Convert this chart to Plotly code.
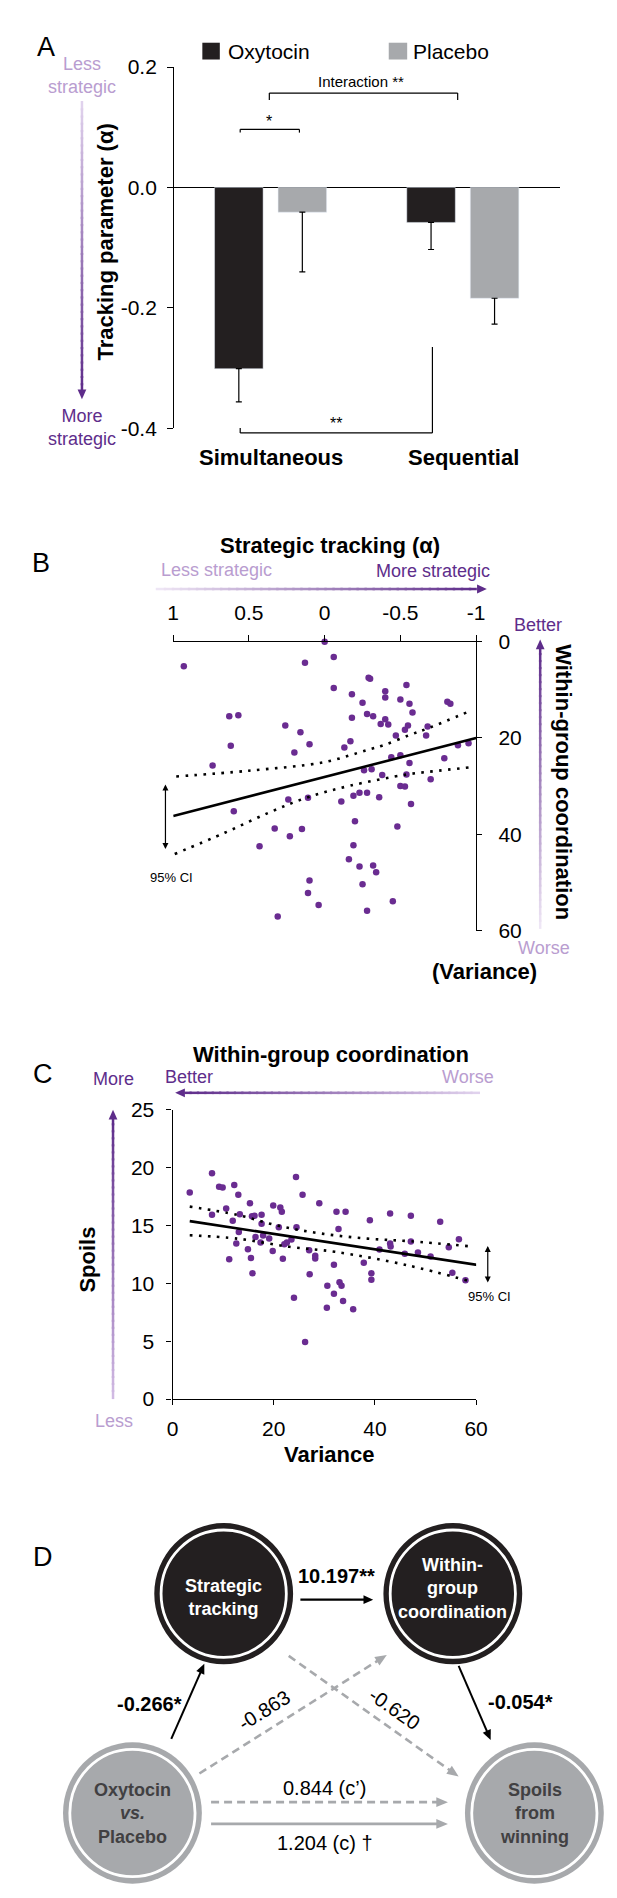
import plotly.graph_objects as go

W, H = 617, 1898
FONT = "Liberation Sans, Arial, sans-serif"

# ---------------- data ----------------
# A: tracking parameter by condition
conditions = ["Simultaneous", "Sequential"]
oxytocin_alpha = [-0.301, -0.058]
oxytocin_sem = [0.055, 0.045]
placebo_alpha = [-0.041, -0.184]
placebo_sem = [0.099, 0.043]

# B: strategic tracking (alpha) vs within-group coordination (variance)
track_alpha = [0.93, 0.00, 0.13, -0.06, -0.06, -0.29, -0.30, -0.18, -0.25, -0.40,
               -0.40, -0.50, -0.54, -0.56, -0.58, 0.63, 0.57, 0.62, 0.74, 0.26,
               0.16, 0.10, 0.20, -0.18, -0.28, -0.32, -0.37, -0.42, -0.40, -0.47,
               -0.53, -0.55, -0.13, -0.17, -0.44, -0.50, -0.56, -0.26, -0.31, -0.38,
               -0.54, 0.60, 0.24, 0.11, -0.11, -0.19, -0.23, -0.28, -0.36, -0.50,
               -0.53, -0.57, -0.20, -0.48, 0.33, 0.23, 0.15, 0.43, -0.19, -0.16,
               -0.23, -0.32, -0.34, 0.10, -0.25, 0.11, 0.04, 0.31, -0.28, -0.45,
               -0.68, -0.67, -0.81, -0.83, -0.88, -0.95, -0.79, -0.70]
coord_var = [5.1, 0.0, 4.4, 3.2, 9.6, 7.5, 7.7, 10.9, 12.7, 10.3,
             11.6, 12.0, 9.0, 12.9, 14.7, 15.5, 15.3, 21.6, 25.7, 17.4,
             18.8, 21.3, 23.0, 15.8, 15.0, 15.5, 17.1, 17.2, 16.1, 19.5,
             18.3, 17.4, 22.0, 20.7, 24.0, 23.6, 25.2, 26.7, 26.5, 27.7,
             27.6, 35.2, 32.8, 32.4, 33.2, 32.0, 31.4, 31.4, 32.3, 30.0,
             30.1, 33.7, 37.3, 38.4, 38.8, 40.4, 38.9, 42.5, 42.3, 45.2,
             46.7, 46.5, 47.9, 49.6, 50.4, 52.2, 54.7, 57.1, 55.9, 53.9,
             17.6, 19.5, 12.5, 12.9, 21.5, 21.1, 24.2, 28.6]
fit_b_alpha = [1.0, -1.0]
fit_b_var = [36.2, 20.0]
ci_b_up_alpha = [0.98, 0.5, 0.0, -0.28, -0.39, -0.56, -0.69, -0.96]
ci_b_up_var = [28.0, 26.8, 25.0, 22.5, 21.5, 19.4, 17.9, 14.4]
ci_b_lo_alpha = [0.99, 0.66, 0.36, 0.11, -0.17, -0.54, -0.71, -0.96]
ci_b_lo_var = [44.1, 39.7, 35.4, 32.3, 29.9, 27.6, 26.95, 26.1]

# C: within-group coordination (variance) vs spoils
var_c = [3.4, 7.8, 9.2, 9.9, 12.2, 13.0, 10.6, 7.8, 13.3, 11.9,
         15.3, 15.7, 16.2, 17.6, 17.6, 19.9, 21.3, 21.6, 21.0, 24.4,
         25.7, 24.5, 29.0, 32.4, 34.2, 32.8, 39.0, 43.0, 47.1, 13.1,
         16.4, 17.9, 17.4, 19.1, 12.6, 14.9, 22.1, 22.6, 23.5, 19.8,
         27.0, 28.2, 28.2, 43.0, 43.1, 40.9, 45.9, 47.1, 11.2, 15.5,
         21.8, 31.9, 37.8, 15.8, 27.1, 39.3, 39.3, 33.0, 33.4, 30.6,
         31.9, 33.7, 24.0, 30.5, 35.7, 26.2, 52.9, 48.5, 51.0, 54.6,
         56.6, 55.3, 57.9]
spoils_c = [17.85, 19.50, 18.33, 18.27, 18.48, 17.65, 16.45, 15.91, 15.97, 15.40,
            16.91, 15.79, 15.83, 15.91, 15.15, 16.71, 16.54, 16.17, 14.85, 19.19,
            17.65, 14.85, 16.91, 16.17, 16.17, 14.68, 15.45, 16.03, 15.83, 14.43,
            14.00, 14.12, 13.52, 13.86, 13.44, 12.95, 13.38, 13.52, 13.78, 12.80,
            12.86, 12.38, 12.15, 13.44, 13.18, 12.92, 12.55, 13.61, 12.07, 12.18,
            12.12, 11.61, 11.78, 10.87, 10.79, 10.87, 10.30, 10.10, 9.79, 9.79,
            9.10, 8.48, 8.76, 7.88, 7.76, 4.94, 15.32, 12.67, 12.32, 13.12,
            13.80, 10.92, 10.27]
fit_c_var = [3.4, 60.3]
fit_c_spoils = [15.37, 11.58]
ci_c_up_var = [3.4, 12.8, 21.2, 29.5, 38.5, 47.1, 58.7]
ci_c_up_spoils = [16.62, 15.91, 14.94, 14.29, 13.86, 13.63, 13.2]
ci_c_lo_var = [3.4, 12.8, 23.1, 32.1, 46.2, 58.5]
ci_c_lo_spoils = [14.15, 13.86, 13.15, 12.72, 11.58, 10.21]

# D: mediation path coefficients
path_strat_coord = "<b>10.197**</b>"
path_oxt_strat = "<b>-0.266*</b>"
path_coord_spoils = "<b>-0.054*</b>"
path_oxt_coord = "-0.863"
path_strat_spoils = "-0.620"
path_direct = "0.844 (c’)"
path_total = "1.204 (c) †"

# ---------------- styles ----------------
BLACK = "#231f20"
GREY = "#a7a9ac"
DOT = "#6a2c91"
DARK = (94, 44, 138)
LIGHT = (226, 212, 238)
DARK_TXT = "#5e2d8b"
LIGHT_TXT = "#b99dd0"
CI_DASH = "2.6px,6.4px"


def px(x):
    return x / W


def py(y):
    return 1 - y / H


fig = go.Figure()
shapes = []
notes = []


def txt(x, y, text, size=18, color="black", angle=0, xanchor="center"):
    notes.append(dict(x=px(x), y=py(y), xref="paper", yref="paper", text=text,
                      showarrow=False, textangle=angle, xanchor=xanchor,
                      yanchor="middle", font=dict(family=FONT, size=size, color=color)))


def seg(x0, y0, x1, y1, color="black", width=1.2, dash=None):
    shapes.append(dict(type="line", xref="paper", yref="paper",
                       x0=px(x0), y0=py(y0), x1=px(x1), y1=py(y1),
                       line=dict(color=color, width=width, dash=dash)))


def head(x0, y0, x1, y1, color, length=10, half=4.5):
    dx, dy = x1 - x0, y1 - y0
    d = (dx * dx + dy * dy) ** 0.5
    ux, uy = dx / d, dy / d
    bx, by = x1 - ux * length, y1 - uy * length
    pts = [(x1, y1), (bx - uy * half, by + ux * half), (bx + uy * half, by - ux * half)]
    path = "M " + " L ".join(f"{px(a):.5f},{py(b):.5f}" for a, b in pts) + " Z"
    shapes.append(dict(type="path", xref="paper", yref="paper", path=path,
                       fillcolor=color, line=dict(width=0)))


def arrow(x0, y0, x1, y1, color="black", width=2, dash=None, length=10, half=4.5):
    dx, dy = x1 - x0, y1 - y0
    d = (dx * dx + dy * dy) ** 0.5
    k = (d - length * 0.8) / d
    seg(x0, y0, x0 + dx * k, y0 + dy * k, color, width, dash)
    head(x0, y0, x1, y1, color, length, half)


def grad(x0, y0, x1, y1, c0, c1, n=40, width=2.5):
    # colour ramp drawn as short line pieces, arrowhead at the dark end
    dx, dy = x1 - x0, y1 - y0
    for i in range(n):
        t0, t1 = i / n, min(1.0, (i + 1.3) / n) * 0.97
        t = (i + 0.5) / n
        col = "#%02x%02x%02x" % tuple(round(c0[k] + (c1[k] - c0[k]) * t) for k in range(3))
        seg(x0 + dx * t0 * 0.97, y0 + dy * t0 * 0.97, x0 + dx * t1, y0 + dy * t1, col, width)
    head(x0, y0, x1, y1, "#%02x%02x%02x" % c1, 10, 4.5)


def circle(cx, cy, r, fill=None, line_color=None, lw=0):
    shapes.append(dict(type="circle", xref="paper", yref="paper",
                       x0=px(cx - r), x1=px(cx + r), y0=py(cy + r), y1=py(cy - r),
                       fillcolor=fill if fill else "rgba(0,0,0,0)",
                       line=dict(color=line_color if line_color else "rgba(0,0,0,0)", width=lw)))


# ---------------- A: bars ----------------
fig.add_trace(go.Bar(x=conditions, y=oxytocin_alpha, name="Oxytocin", marker_color=BLACK,
                     offset=-0.295, width=0.2525,
                     error_y=dict(type="data", symmetric=False, array=[0, 0],
                                  arrayminus=oxytocin_sem, color="black", thickness=1.2, width=3),
                     xaxis="x", yaxis="y"))
fig.add_trace(go.Bar(x=conditions, y=placebo_alpha, name="Placebo", marker_color=GREY,
                     offset=0.0354, width=0.2525,
                     error_y=dict(type="data", symmetric=False, array=[0, 0],
                                  arrayminus=placebo_sem, color="black", thickness=1.2, width=3),
                     xaxis="x", yaxis="y"))

# ---------------- B: scatter ----------------
fig.add_trace(go.Scatter(x=track_alpha, y=coord_var, mode="markers", cliponaxis=False,
                         marker=dict(color=DOT, size=6.5), xaxis="x2", yaxis="y2"))
fig.add_trace(go.Scatter(x=fit_b_alpha, y=fit_b_var, mode="lines",
                         line=dict(color="black", width=2.6), xaxis="x2", yaxis="y2"))
for xs, ys in [(ci_b_up_alpha, ci_b_up_var), (ci_b_lo_alpha, ci_b_lo_var)]:
    fig.add_trace(go.Scatter(x=xs, y=ys, mode="lines", line_shape="spline",
                             line=dict(color="black", width=2.6, dash=CI_DASH),
                             xaxis="x2", yaxis="y2"))

# ---------------- C: scatter ----------------
fig.add_trace(go.Scatter(x=var_c, y=spoils_c, mode="markers", cliponaxis=False,
                         marker=dict(color=DOT, size=6.5), xaxis="x3", yaxis="y3"))
fig.add_trace(go.Scatter(x=fit_c_var, y=fit_c_spoils, mode="lines",
                         line=dict(color="black", width=2.6), xaxis="x3", yaxis="y3"))
for xs, ys in [(ci_c_up_var, ci_c_up_spoils), (ci_c_lo_var, ci_c_lo_spoils)]:
    fig.add_trace(go.Scatter(x=xs, y=ys, mode="lines", line_shape="spline",
                             line=dict(color="black", width=2.6, dash=CI_DASH),
                             xaxis="x3", yaxis="y3"))

tick_font = dict(family=FONT, size=21, color="black")
axis_common = dict(showgrid=False, zeroline=False, showline=True, linecolor="black",
                   linewidth=1.2, ticks="outside", ticklen=6, tickcolor="black",
                   tickwidth=1.2, tickfont=tick_font, fixedrange=True)

# ---------------- A annotations ----------------
txt(33, 27, "A", 27)
shapes.append(dict(type="rect", xref="paper", yref="paper", x0=px(194), x1=px(212),
                   y0=py(40), y1=py(23), fillcolor=BLACK, line=dict(width=0)))
shapes.append(dict(type="rect", xref="paper", yref="paper", x0=px(386), x1=px(405),
                   y0=py(40), y1=py(23), fillcolor=GREY, line=dict(width=0)))
txt(218, 32, "Oxytocin", 21, xanchor="left")
txt(409, 32, "Placebo", 21, xanchor="left")
txt(70, 56, "Less<br>strategic", 18, LIGHT_TXT)
txt(70, 412, "More<br>strategic", 18, DARK_TXT)
grad(70, 82, 70, 384, LIGHT, DARK)
txt(94, 225, "<b>Tracking parameter (α)</b>", 22, angle=-90)
for cx, lab in zip([265, 463], conditions):
    txt(cx, 443, f"<b>{lab}</b>", 22)
# significance brackets
seg(233, 114, 233, 110.7); seg(233, 110.7, 294, 110.7); seg(294, 110.7, 294, 114)
txt(263, 103, "*", 16)
seg(263, 81, 263, 74); seg(263, 74, 457, 74); seg(457, 74, 457, 81)
txt(357, 62, "Interaction **", 15)
seg(233, 413, 233, 418); seg(233, 418, 431, 418); seg(431, 418, 431, 331)
txt(332, 408, "**", 16)

# ---------------- B annotations ----------------
txt(28, 550, "B", 27)
txt(325, 532, "<b>Strategic tracking (α)</b>", 22)
txt(209, 557, "Less strategic", 18, LIGHT_TXT)
txt(432, 558, "More strategic", 18, DARK_TXT)
grad(146, 576, 487, 576, (240, 232, 246), DARK)
txt(540, 612, "Better", 18, DARK_TXT)
grad(542, 920, 542, 627, (240, 232, 246), DARK)
txt(566, 772, "<b>Within-group coordination</b>", 22, angle=90)
txt(546, 939, "Worse", 18, LIGHT_TXT)
txt(485, 963, "<b>(Variance)</b>", 22)
txt(162, 868, "95% CI", 13)
notes.append(dict(x=px(156), y=py(774), xref="paper", yref="paper", ax=0, ay=66,
                  showarrow=True, arrowside="end+start", arrowhead=2, arrowsize=1,
                  arrowwidth=1.2, arrowcolor="black", text=""))

# ---------------- C annotations ----------------
txt(30, 1067, "C", 27)
txt(327, 1047, "<b>Within-group coordination</b>", 22)
txt(103, 1072, "More", 18, DARK_TXT)
txt(180, 1070, "Better", 18, DARK_TXT)
txt(468, 1070, "Worse", 18, LIGHT_TXT)
grad(480, 1086, 166, 1086, LIGHT, DARK)
grad(102, 1396, 102, 1103, (210, 188, 228), DARK)
txt(103, 1418, "Less", 18, LIGHT_TXT)
txt(76, 1255, "<b>Spoils</b>", 22, angle=-90)
txt(325, 1452, "<b>Variance</b>", 22)
txt(490, 1292, "95% CI", 13)
notes.append(dict(x=px(488), y=py(1241), xref="paper", yref="paper", ax=0, ay=38,
                  showarrow=True, arrowside="end+start", arrowhead=2, arrowsize=1,
                  arrowwidth=1.2, arrowcolor="black", text=""))

# ---------------- D: mediation diagram ----------------
txt(30, 1556, "D", 27)
for cx, cy, fill in [(216, 1593, BLACK), (452, 1593, BLACK),
                     (122, 1815, GREY), (536, 1815, GREY)]:
    circle(cx, cy, 71.5, fill=fill)
    circle(cx, cy, 64.5, line_color="white", lw=2.8)
txt(216, 1597, "<b>Strategic<br>tracking</b>", 18, "white")
txt(452, 1588, "<b>Within-<br>group<br>coordination</b>", 18, "white")
txt(122, 1816, "<b>Oxytocin<br><i>vs.</i><br>Placebo</b>", 18, "#414042")
txt(536, 1816, "<b>Spoils<br>from<br>winning</b>", 18, "#414042")

arrow(295, 1599, 370, 1599, "black", 2.2)
arrow(162, 1740, 196, 1664, "black", 2)
arrow(458, 1666, 491, 1741, "black", 2)
arrow(191, 1775, 384, 1655, GREY, 2.6, "8px,5px", 12, 5)
arrow(283, 1656, 458, 1778, GREY, 2.6, "8px,5px", 12, 5)
arrow(203, 1804, 447, 1804, GREY, 2.6, "8px,5px", 12, 5)
arrow(203, 1826, 447, 1826, GREY, 2.6, None, 12, 5)

txt(332, 1575, path_strat_coord, 20)
txt(140, 1705, path_oxt_strat, 20)
txt(522, 1703, path_coord_spoils, 20)
txt(258, 1711, path_oxt_coord, 20, angle=-32)
txt(392, 1710, path_strat_spoils, 20, angle=35)
txt(320, 1790, path_direct, 20)
txt(320, 1845, path_total, 20)

# ---------------- layout ----------------
fig.update_layout(
    width=W, height=H, margin=dict(l=0, r=0, t=0, b=0),
    paper_bgcolor="white", plot_bgcolor="white",
    showlegend=False, hovermode=False, barmode="group",
    font=dict(family=FONT, color="black"),
    xaxis=dict(domain=[px(165), px(562)], anchor="y", type="category",
               range=[-0.505, 1.5], showticklabels=False, showline=False,
               showgrid=False, zeroline=False, ticks="", fixedrange=True),
    yaxis=dict(axis_common, domain=[py(413.3), py(47.7)], anchor="x", range=[-0.4, 0.2],
               tickvals=[-0.4, -0.2, 0.0, 0.2], ticktext=["-0.4", "-0.2", "0.0", "0.2"],
               zeroline=True, zerolinecolor="black", zerolinewidth=1.2,
               ticklabelstandoff=6),
    xaxis2=dict(axis_common, domain=[px(164), px(476)], anchor="y2", side="top",
                range=[1, -1], tickvals=[1, 0.5, 0, -0.5, -1],
                ticktext=["1", "0.5", "0", "-0.5", "-1"], ticklabelstandoff=6),
    yaxis2=dict(axis_common, domain=[py(921.7), py(629.3)], anchor="x2", side="right",
                range=[60, 0], tickvals=[0, 20, 40, 60], ticklen=5, ticklabelstandoff=12),
    xaxis3=dict(axis_common, domain=[px(163.3), px(476)], anchor="y3",
                range=[0, 60], tickvals=[0, 20, 40, 60], ticklen=5, ticklabelstandoff=6),
    yaxis3=dict(axis_common, domain=[py(1396), py(1103)], anchor="x3",
                range=[0, 25], tickvals=[0, 5, 10, 15, 20, 25], ticklen=5,
                ticklabelstandoff=8),
    shapes=shapes,
    annotations=notes,
)

fig.write_html("out.html")
